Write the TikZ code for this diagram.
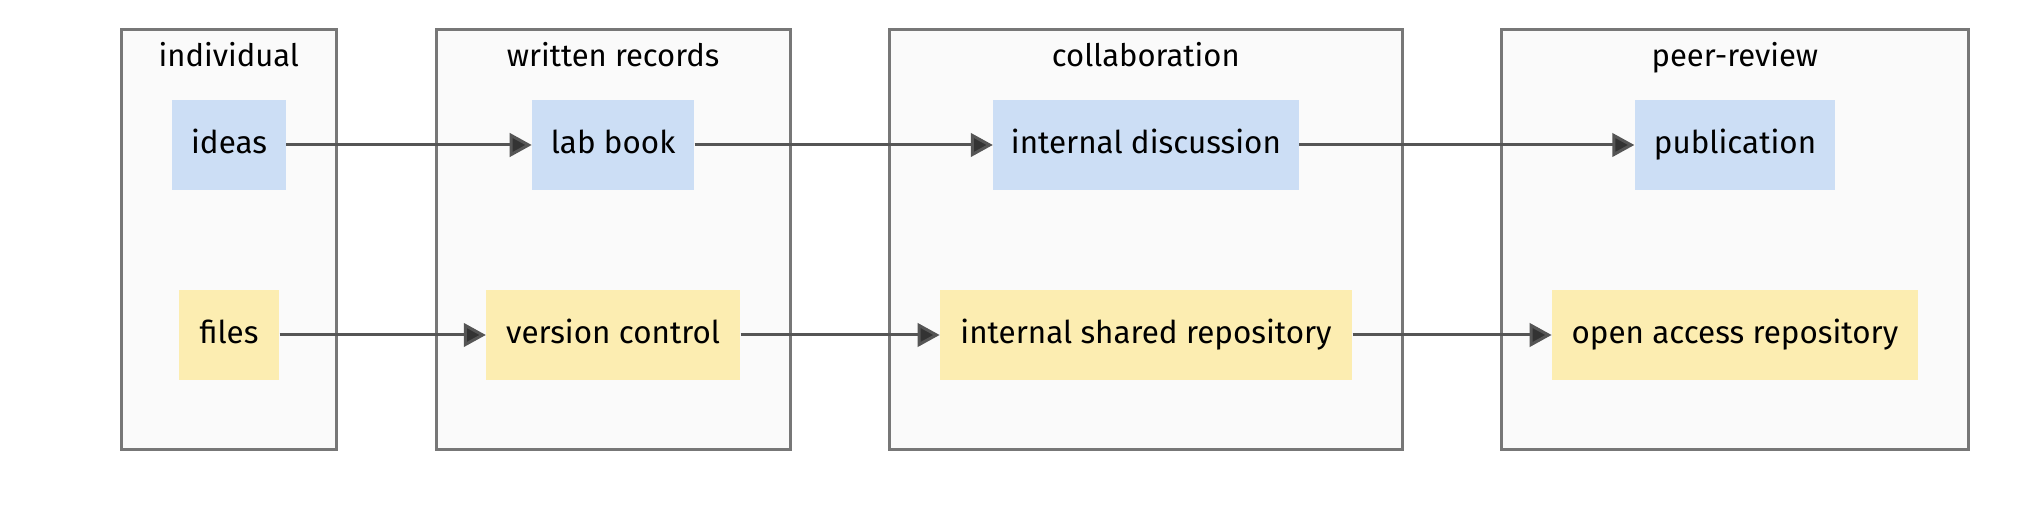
\documentclass[tikz,border=0pt]{standalone}
\usepackage{fontspec}
\setmainfont{Fira Sans}
\usetikzlibrary{arrows.meta}
\definecolor{bluefill}{HTML}{CCDEF5}
\definecolor{yellowfill}{HTML}{FCEDB1}
\definecolor{clusterfill}{HTML}{FAFAFA}
\definecolor{clusterline}{HTML}{777777}
\definecolor{edgecol}{HTML}{555555}
\definecolor{headcol}{HTML}{333333}
\tikzset{
  cluster/.style={draw=clusterline, fill=clusterfill, line width=1.5pt, inner sep=0pt, minimum height=210pt},
  ctitle/.style={anchor=base, inner sep=0pt, font=\fontsize{15.5pt}{18pt}\selectfont},
  boxnode/.style={inner sep=0pt, minimum height=45pt, text height=10pt, text depth=1.7pt, font=\fontsize{15.7pt}{18pt}\selectfont},
  bluebox/.style={boxnode, fill=bluefill},
  yellowbox/.style={boxnode, fill=yellowfill},
  conn/.style={draw=edgecol, line width=1.5pt, -{Triangle[length=11pt, width=11.7pt, fill=headcol]}},
}
\begin{document}
\begin{tikzpicture}[x=0.5pt, y=-0.5pt]
\useasboundingbox[fill=white] (0,0) rectangle (2034,528);
% clusters
\node[cluster, minimum width=107.2pt] (cInd) at (228.8,240) {};
\node[cluster, minimum width=177pt] (cWr) at (613.1,240) {};
\node[cluster, minimum width=256.4pt] (cCol) at (1145.8,240) {};
\node[cluster, minimum width=233.15pt] (cPeer) at (1734.85,240) {};
\node[ctitle] (tInd) at (228.8,66.5) {individual};
\node[ctitle] (tWr) at (613.1,66.5) {written records};
\node[ctitle] (tCol) at (1145.8,66.5) {collaboration};
\node[ctitle] (tPeer) at (1734.85,66.5) {peer-review};
% nodes
\node[bluebox, minimum width=56.95pt] (ideas) at (229.05,145) {ideas};
\node[yellowbox, minimum width=50.05pt] (files) at (229.05,335) {files};
\node[bluebox, minimum width=81.05pt] (lab) at (613.15,145) {lab book};
\node[yellowbox, minimum width=126.95pt] (vc) at (613.15,335) {version control};
\node[bluebox, minimum width=152.7pt] (disc) at (1145.9,145) {internal discussion};
\node[yellowbox, minimum width=206.05pt] (isr) at (1146.05,335) {internal shared repository};
\node[bluebox, minimum width=100.3pt] (pub) at (1735,145) {publication};
\node[yellowbox, minimum width=182.85pt] (oar) at (1734.85,335) {open access repository};
% connectors
\draw[conn] (ideas) -- (lab);
\draw[conn] (lab) -- (disc);
\draw[conn] (disc) -- (pub);
\draw[conn] (files) -- (vc);
\draw[conn] (vc) -- (isr);
\draw[conn] (isr) -- (oar);
\end{tikzpicture}
\end{document}
